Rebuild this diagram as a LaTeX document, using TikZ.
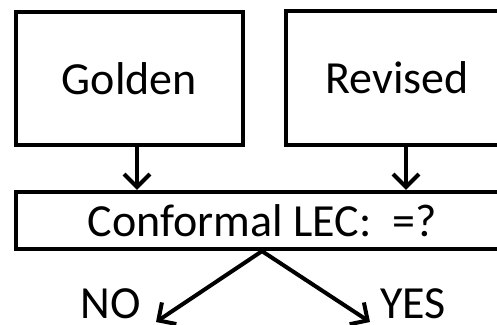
\documentclass[tikz,border=0pt]{standalone}
\usepackage{fontspec}
\setmainfont{Carlito}
\usepackage{tikz}
\usetikzlibrary{arrows.meta}
\tikzstyle{box} = [draw, line width=4.3pt, inner sep=0pt, text centered, font=\fontsize{46}{50}\selectfont]
\tikzstyle{lbl} = [inner sep=0pt, anchor=base, font=\fontsize{46}{50}\selectfont]
\tikzstyle{arr} = [line width=4pt, -{Straight Barb[length=13pt,width=26pt,line width=4pt]}]

\begin{document}
\begin{tikzpicture}[x=1pt,y=-1pt]
	\useasboundingbox (0,0) rectangle (497,324);
	\clip (0,0) rectangle (497,324);
	\node[box, minimum width=227pt, minimum height=133pt] (gold) at (129.5,78.5) {Golden};
	\node[box, minimum width=222pt, minimum height=134pt] (rev) at (397,78) {Revised};
	\node[box, minimum width=492pt, minimum height=57pt] (lec) at (262,220.5) {Conformal LEC:\ \ =?};
	\node[lbl] (no) at (111,318) {NO};
	\node[lbl] (yes) at (413,318) {YES};
	\coordinate (notip) at (156,322);
	\coordinate (yestip) at (370,322);
	\draw[arr] ([xshift=7.5pt]gold.south) -- ([xshift=7.5pt]gold.south |- lec.north);
	\draw[arr] ([xshift=9pt]rev.south) -- ([xshift=9pt]rev.south |- lec.north);
	\draw[arr] (lec.south) -- (notip);
	\draw[arr] (lec.south) -- (yestip);
\end{tikzpicture}
\end{document}
